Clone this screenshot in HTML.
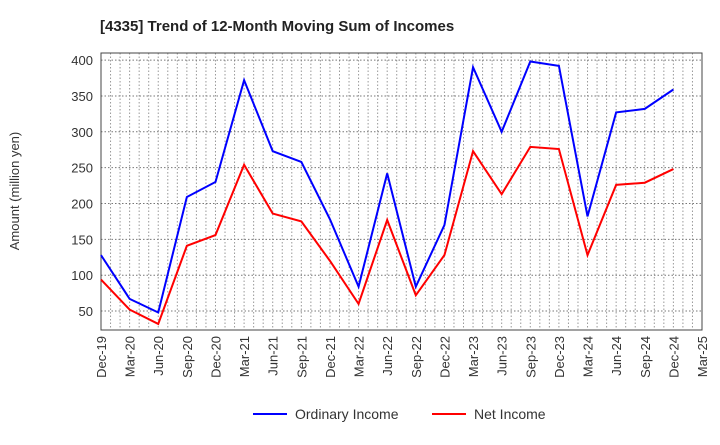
<!DOCTYPE html>
<html><head><meta charset="utf-8"><style>
body{margin:0;background:#fff;font-family:"Liberation Sans",Arial,sans-serif}
svg text{font-family:"Liberation Sans",Arial,sans-serif}
</style></head><body>
<svg id="chart" width="720" height="440" xmlns="http://www.w3.org/2000/svg">
<text x="100" y="31" font-size="15" font-weight="bold" fill="#222">[4335]  Trend of 12-Month Moving Sum of Incomes</text>
<g id="grid"></g><g id="axes"></g><g id="series"></g>
<text transform="translate(19,191) rotate(-90)" text-anchor="middle" font-size="13" fill="#333">Amount (million yen)</text>
<g>
<line x1="253" y1="414" x2="287" y2="414" stroke="#0000ff" stroke-width="2"/>
<text x="295" y="419" font-size="14" fill="#333">Ordinary Income</text>
<line x1="432" y1="414" x2="466" y2="414" stroke="#ff0000" stroke-width="2"/>
<text x="474" y="419" font-size="14" fill="#333">Net Income</text>
</g>
</svg>
<script>
const categories=["Dec-19","Mar-20","Jun-20","Sep-20","Dec-20","Mar-21","Jun-21","Sep-21","Dec-21","Mar-22","Jun-22","Sep-22","Dec-22","Mar-23","Jun-23","Sep-23","Dec-23","Mar-24","Jun-24","Sep-24","Dec-24","Mar-25"];
const ordinaryIncome=[128,67,48,209,230,372,273,258,178,84,242,84,170,390,300,398,392,182,327,332,359];
const netIncome=[94,52,32,141,156,254,186,175,120,60,177,72,128,273,213,279,276,128,226,229,248];
const yTicks=[50,100,150,200,250,300,350,400];
const L=101,R=702,T=53,B=330;
const NS="http://www.w3.org/2000/svg";
function x(i){return L+i*(R-L)/(categories.length-1);}
function y(v){return 346.9-0.717*v;}
function mk(tag,attrs,parent){const e=document.createElementNS(NS,tag);for(const k in attrs)e.setAttribute(k,attrs[k]);parent.appendChild(e);return e;}
const grid=document.getElementById('grid'),axes=document.getElementById('axes'),series=document.getElementById('series');
for(let m=1;m<(categories.length-1)*3;m++){const xx=L+m*(R-L)/((categories.length-1)*3);
 const g=mk('line',{x1:xx,x2:xx,y1:T,y2:B,stroke:'#999','stroke-dasharray':'1.5,2','stroke-width':1},grid);
 
 }
yTicks.forEach(v=>{const g=mk('line',{x1:L,x2:R,y1:y(v),y2:y(v),stroke:'#777','stroke-dasharray':'1.5,2','stroke-width':1},grid);
 
 
 const t=mk('text',{x:L-8,y:y(v)+5,'text-anchor':'end','font-size':13,fill:'#333'},axes);t.textContent=v;
 
 });
const fr=mk('rect',{x:L,y:T,width:R-L,height:B-T,fill:'none',stroke:'#444','stroke-width':1},axes);


categories.forEach((c,i)=>{const t=mk('text',{transform:`translate(${x(i)+5},${B+6}) rotate(-90)`,'text-anchor':'end','font-size':13,fill:'#333'},axes);t.textContent=c;
 
 });
function line(data,color,name){const p=mk('polyline',{points:data.map((v,i)=>x(i)+','+y(v)).join(' '),fill:'none',stroke:color,'stroke-width':2},series);
 
 }
line(ordinaryIncome,'#0000ff','ordinary-income-line');
line(netIncome,'#ff0000','net-income-line');
</script>
</body></html>
